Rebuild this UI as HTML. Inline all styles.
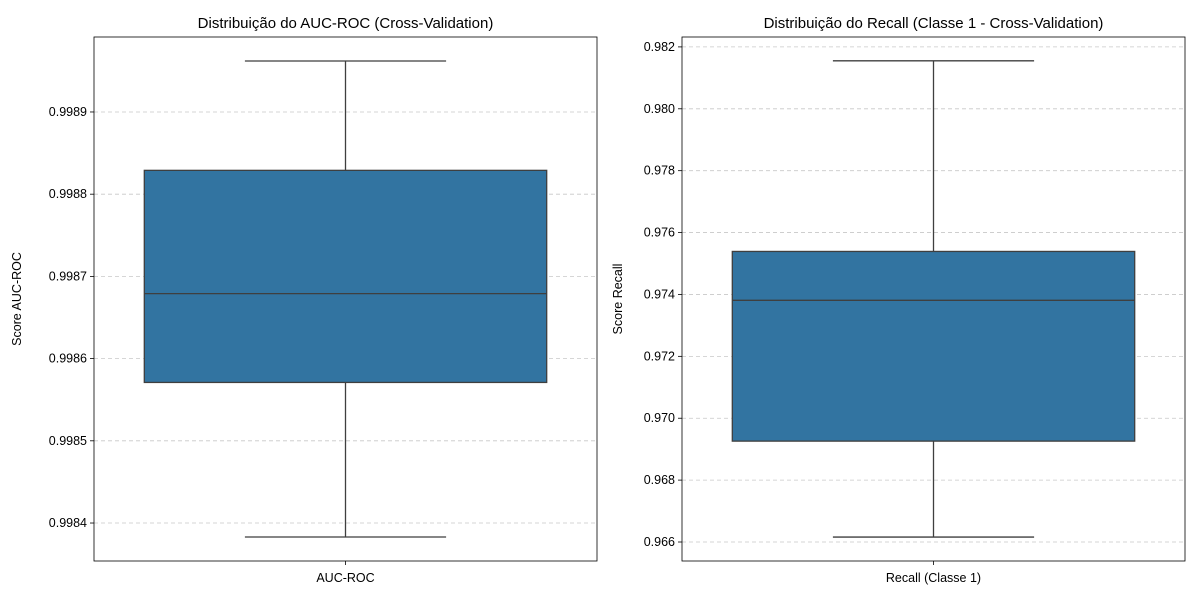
<!DOCTYPE html>
<html><head><meta charset="utf-8">
<style>
body{margin:0;background:#fff;font-family:"Liberation Sans","DejaVu Sans",sans-serif;}
svg text{font-family:"Liberation Sans","DejaVu Sans",sans-serif;fill:#000;}
</style></head>
<body>
<svg id="chart" width="1200" height="600" xmlns="http://www.w3.org/2000/svg"></svg>
<script>
// Panel data
const panelTitles = ["Distribuição do AUC-ROC (Cross-Validation)", "Distribuição do Recall (Classe 1 - Cross-Validation)"];
const yTitles = ["Score AUC-ROC", "Score Recall"];
const categories = ["AUC-ROC", "Recall (Classe 1)"];
const aucStats = [0.998383, 0.998571, 0.998679, 0.998829, 0.998962]; // min,q1,median,q3,max
const recallStats = [0.96616, 0.96926, 0.97381, 0.97539, 0.98155];
const aucTicks = [0.9984, 0.9985, 0.9986, 0.9987, 0.9988, 0.9989];
const recallTicks = [0.966, 0.968, 0.970, 0.972, 0.974, 0.976, 0.978, 0.980, 0.982];
const aucDomain = [0.9983538, 0.9989912];
const recallDomain = [0.965386, 0.98232];

const svg = document.getElementById('chart');
const NS = "http://www.w3.org/2000/svg";
function mk(tag, attrs, parent){const e=document.createElementNS(NS,tag);for(const k in attrs)e.setAttribute(k,attrs[k]);(parent||svg).appendChild(e);return e;}

const panels = [
 {x0:94,x1:597,stats:aucStats,ticks:aucTicks,dom:aucDomain,dec:4,title:panelTitles[0],yt:yTitles[0],cat:categories[0],ytx:21},
 {x0:682,x1:1185,stats:recallStats,ticks:recallTicks,dom:recallDomain,dec:3,title:panelTitles[1],yt:yTitles[1],cat:categories[1],ytx:622}
];
const plotTop=37,plotBot=561;
panels.forEach((p,i)=>{
  const g=mk('g',{});
  
  
  const y=v=>plotBot-(v-p.dom[0])/(p.dom[1]-p.dom[0])*(plotBot-plotTop);
  const w=p.x1-p.x0, cx=p.x0+w/2;
  p.ticks.forEach(t=>{
    const yy=y(t);
    const gl=mk('line',{x1:p.x0,x2:p.x1,y1:yy,y2:yy,stroke:'#c8c8c8','stroke-dasharray':'4,3','stroke-width':0.8},g);
    
    
    mk('line',{x1:p.x0-4,x2:p.x0,y1:yy,y2:yy,stroke:'#000','stroke-width':0.8},g);
    const tl=mk('text',{x:p.x0-7,y:yy+4,'text-anchor':'end','font-size':12.5},g);
    tl.textContent=t.toFixed(p.dec);
    
    
  });
  const s=p.stats, bl=p.x0+w*0.1, bw=w*0.8, cl=p.x0+w*0.3, cr=p.x0+w*0.7;
  mk('line',{x1:cx,x2:cx,y1:y(s[0]),y2:y(s[1]),stroke:'#3f3f3f','stroke-width':1.3},g);
  mk('line',{x1:cx,x2:cx,y1:y(s[3]),y2:y(s[4]),stroke:'#3f3f3f','stroke-width':1.3},g);
  mk('line',{x1:cl,x2:cr,y1:y(s[0]),y2:y(s[0]),stroke:'#3f3f3f','stroke-width':1.3},g);
  mk('line',{x1:cl,x2:cr,y1:y(s[4]),y2:y(s[4]),stroke:'#3f3f3f','stroke-width':1.3},g);
  const box=mk('rect',{x:bl,y:y(s[3]),width:bw,height:y(s[1])-y(s[3]),fill:'#3274a1',stroke:'#3f3f3f','stroke-width':1.3},g);
  
  
  mk('line',{x1:bl,x2:bl+bw,y1:y(s[2]),y2:y(s[2]),stroke:'#3f3f3f','stroke-width':1.3},g);
  mk('rect',{x:p.x0,y:plotTop,width:w,height:plotBot-plotTop,fill:'none',stroke:'#000','stroke-width':0.8},g);
  mk('line',{x1:cx,x2:cx,y1:plotBot,y2:plotBot+4,stroke:'#000','stroke-width':0.8},g);
  const xl=mk('text',{x:cx,y:plotBot+21,'text-anchor':'middle','font-size':12.5},g);
  xl.textContent=p.cat;
  
  
  const tt=mk('text',{x:cx,y:28,'text-anchor':'middle','font-size':15},g);
  tt.textContent=p.title;
  
  
  const yl=mk('text',{x:p.ytx,y:(plotTop+plotBot)/2,'text-anchor':'middle','font-size':12.5,transform:`rotate(-90 ${p.ytx} ${(plotTop+plotBot)/2})`},g);
  yl.textContent=p.yt;
  
  
});
</script>
</body></html>
